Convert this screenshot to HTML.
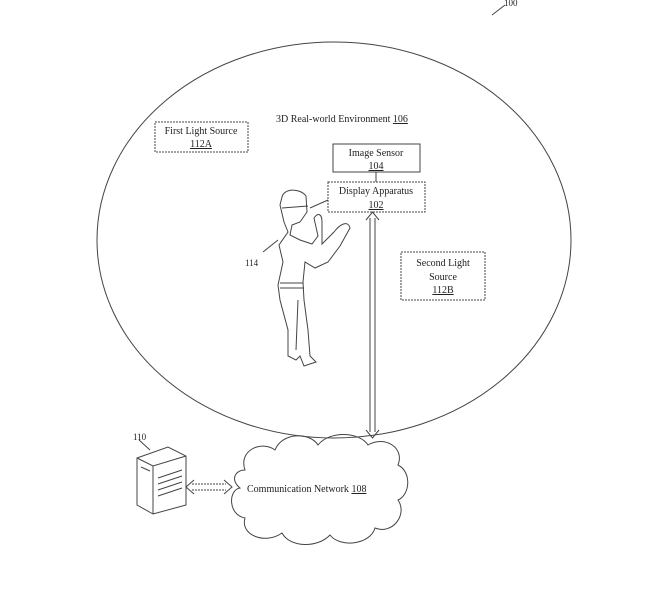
<!DOCTYPE html><html><head><style>body{margin:0;background:#fff}svg text{font-family:"Liberation Serif",serif;fill:#222}</style></head><body>
<svg width="656" height="593" viewBox="0 0 656 593" xmlns="http://www.w3.org/2000/svg">
<g fill="none" stroke="#444" stroke-width="1">
<ellipse cx="334" cy="240" rx="237" ry="198"/>
<rect x="155" y="122" width="93" height="30" stroke-dasharray="2,1"/>
<rect x="333" y="144" width="87" height="28"/>
<line x1="376" y1="172" x2="376" y2="182"/>
<rect x="328" y="182" width="97" height="30" stroke-dasharray="2,1"/>
<rect x="401" y="252" width="84" height="48" stroke-dasharray="2,1"/>
<line x1="310" y1="208" x2="328" y2="200"/>
<!-- vertical double arrow -->
<path d="M370 218 L370 432 M375 218 L375 432"/>
<path d="M366 220 L372.5 212 L379 220 M366 430 L372.5 438 L379 430"/>
<!-- horizontal arrow -->
<path d="M192 484 L226 484 M192 490 L226 490" stroke-dasharray="2,1"/>
<path d="M194 480 L186 487 L194 494 M224 480 L232 487 L224 494"/>
<!-- cloud -->
<path d="M245 470 C238 450 262 440 275 450 C282 432 310 432 318 445 C330 430 360 432 368 445 C385 435 405 448 398 465 C412 472 410 495 398 500 C408 515 392 535 375 528 C370 545 340 548 330 535 C318 548 290 548 282 533 C265 545 240 535 245 518 C228 515 228 490 240 488 C230 480 235 470 245 470 Z"/>
<!-- server -->
<path d="M137 458 L168 447 L186 456 L186 505 L153 514 L137 505 Z M137 458 L153 466 L186 456 M153 466 L153 514"/>
<path d="M158 478 L182 470 M158 484 L182 476 M158 490 L182 482 M158 496 L182 488 M141 467 L150 471"/>
<line x1="139" y1="440" x2="150" y2="450"/>
<!-- person -->
<path d="M282 197 C284 188 300 188 306 196 L307 212 L300 222 L292 225 L290 235 L300 240 L312 244 L318 236 L314 218 C318 212 322 214 322 222 L322 244 L334 232 C340 224 348 220 350 228 L340 246 L328 262 L315 268 L305 262 L303 282 L304 300 L308 330 L310 356 L316 362 L304 366 L300 356 L296 360 L288 356 L288 330 L280 300 L278 285 L283 262 L279 245 L288 232 L284 222 L280 205 Z"/>
<path d="M282 208 L308 206 M303 283 L280 283 M280 288 L304 288 M298 300 L296 350"/>
<line x1="263" y1="252" x2="278" y2="240"/>
<line x1="492" y1="15" x2="505" y2="5"/>
</g>
<text x="504" y="6" font-size="9">100</text>
<text x="276" y="122" font-size="10">3D Real-world Environment <tspan text-decoration="underline">106</tspan></text>
<text x="201" y="134" font-size="10" text-anchor="middle">First Light Source</text>
<text x="201" y="147" font-size="10" text-anchor="middle" text-decoration="underline">112A</text>
<text x="376" y="156" font-size="10" text-anchor="middle">Image Sensor</text>
<text x="376" y="169" font-size="10" text-anchor="middle" text-decoration="underline">104</text>
<text x="376" y="194" font-size="10" text-anchor="middle">Display Apparatus</text>
<text x="376" y="208" font-size="10" text-anchor="middle" text-decoration="underline">102</text>
<text x="443" y="266" font-size="10" text-anchor="middle">Second Light</text>
<text x="443" y="280" font-size="10" text-anchor="middle">Source</text>
<text x="443" y="293" font-size="10" text-anchor="middle" text-decoration="underline">112B</text>
<text x="245" y="266" font-size="9">114</text>
<text x="133" y="440" font-size="9">110</text>
<text x="247" y="492" font-size="10">Communication Network <tspan text-decoration="underline">108</tspan></text>
</svg></body></html>
